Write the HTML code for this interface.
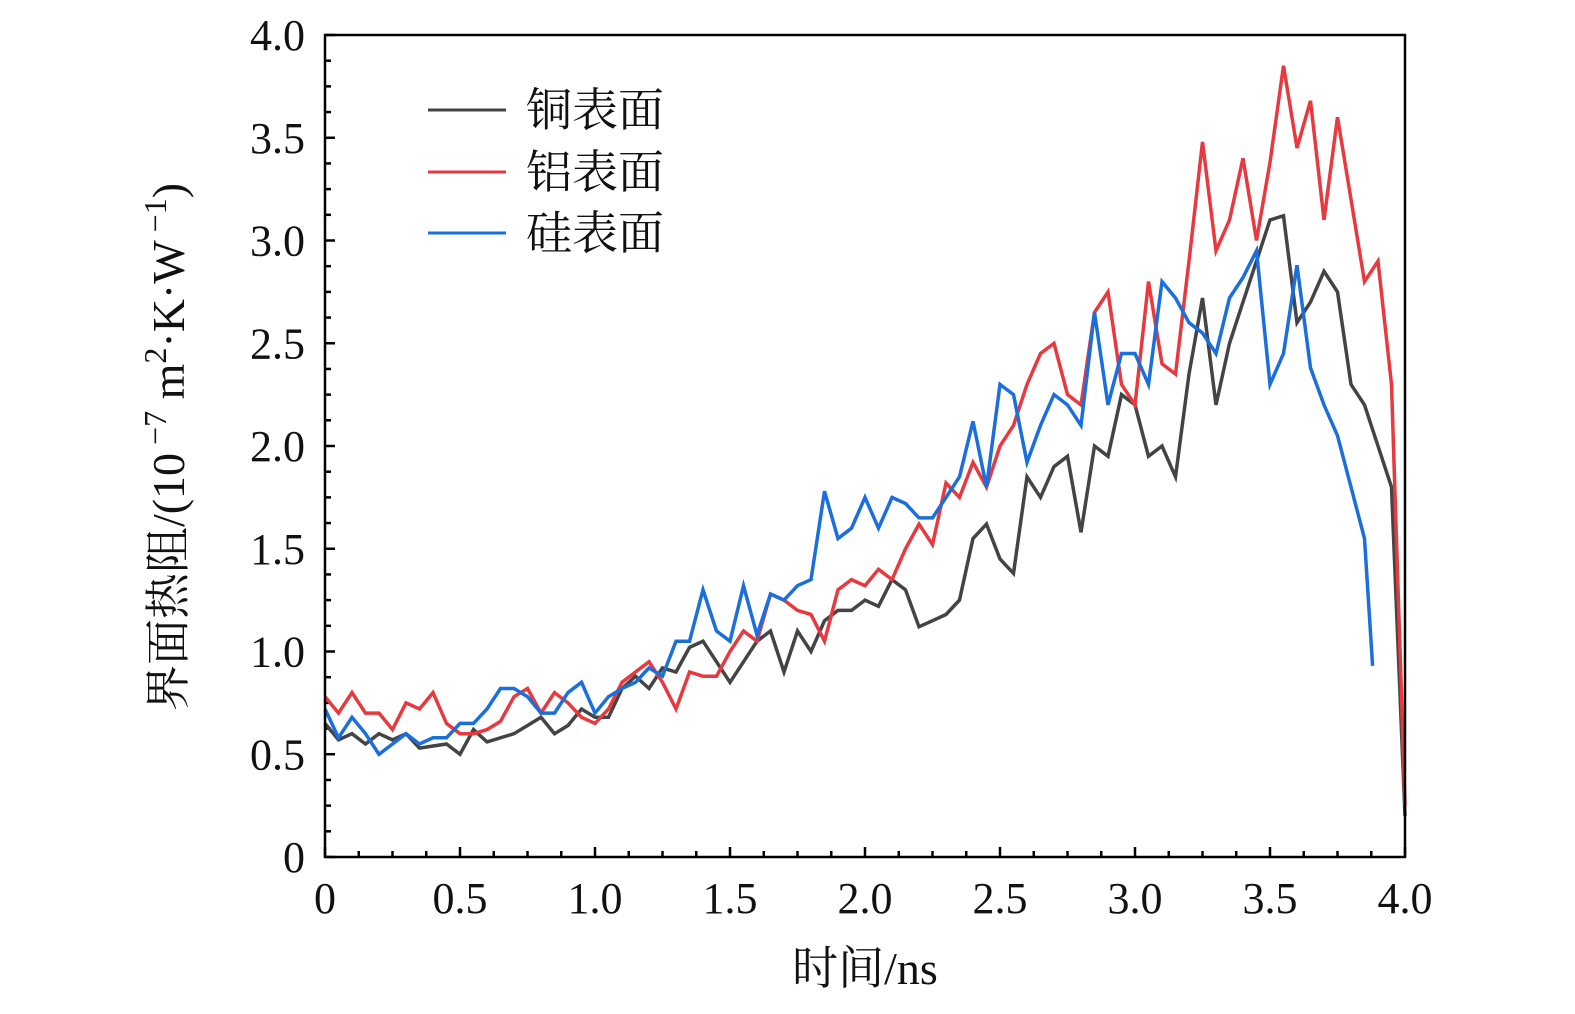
<!DOCTYPE html>
<html><head><meta charset="utf-8"><style>
html,body{margin:0;padding:0;background:#fff;}
svg{display:block;}
text{font-family:"Liberation Serif","Noto Serif CJK SC","Noto Sans CJK SC",serif;fill:#111;}
</style></head><body>
<svg id="chart" width="1575" height="1014" viewBox="0 0 1575 1014"></svg>
<script>
const times = [];
for (let i = 0; i <= 80; i++) times.push(+(i * 0.05).toFixed(2));
const copperValues = [0.65,0.57,0.6,0.55,0.6,0.57,0.6,0.53,0.54,0.55,0.5,0.62,0.56,0.58,0.6,0.64,0.68,0.6,0.64,0.72,0.68,0.68,0.82,0.88,0.82,0.92,0.9,1.02,1.05,0.95,0.85,0.95,1.05,1.1,0.9,1.1,1.0,1.15,1.2,1.2,1.25,1.22,1.35,1.3,1.12,1.15,1.18,1.25,1.55,1.62,1.45,1.38,1.85,1.75,1.9,1.95,1.58,2.0,1.95,2.25,2.2,1.95,2.0,1.85,2.35,2.72,2.2,2.5,2.7,2.9,3.1,3.12,2.6,2.7,2.85,2.75,2.3,2.2,2.0,1.8,0.2];
const aluminumValues = [0.78,0.7,0.8,0.7,0.7,0.62,0.75,0.72,0.8,0.65,0.6,0.6,0.62,0.66,0.78,0.82,0.7,0.8,0.75,0.68,0.65,0.72,0.85,0.9,0.95,0.85,0.72,0.9,0.88,0.88,1.0,1.1,1.05,1.28,1.25,1.2,1.18,1.05,1.3,1.35,1.32,1.4,1.35,1.5,1.62,1.52,1.82,1.75,1.92,1.8,2.0,2.1,2.3,2.45,2.5,2.25,2.2,2.65,2.75,2.3,2.2,2.8,2.4,2.35,2.9,3.48,2.95,3.1,3.4,3.0,3.38,3.85,3.45,3.68,3.1,3.6,3.2,2.8,2.9,2.3,0.25];
const siliconTimes = times.slice(0, 78).concat([3.88]);
const siliconValues = [0.72,0.58,0.68,0.6,0.5,0.55,0.6,0.55,0.58,0.58,0.65,0.65,0.72,0.82,0.82,0.78,0.7,0.7,0.8,0.85,0.7,0.78,0.82,0.85,0.92,0.88,1.05,1.05,1.3,1.1,1.05,1.32,1.08,1.28,1.25,1.32,1.35,1.78,1.55,1.6,1.75,1.6,1.75,1.72,1.65,1.65,1.75,1.85,2.12,1.8,2.3,2.25,1.92,2.1,2.25,2.2,2.1,2.65,2.2,2.45,2.45,2.3,2.8,2.72,2.6,2.55,2.45,2.72,2.82,2.95,2.3,2.45,2.88,2.38,2.2,2.05,1.8,1.55,0.93];
const xTickLabels = ["0","0.5","1.0","1.5","2.0","2.5","3.0","3.5","4.0"];
const yTickLabels = ["0","0.5","1.0","1.5","2.0","2.5","3.0","3.5","4.0"];

const NS = "http://www.w3.org/2000/svg";
const svg = document.getElementById("chart");
const X0 = 325, X1 = 1405, Y0 = 857, Y1 = 35;
const xs = v => X0 + (v / 4) * (X1 - X0);
const ys = v => Y0 - (v / 4) * (Y0 - Y1);
function mk(tag, attrs, parent) {
  const e = document.createElementNS(NS, tag);
  for (const k in attrs) e.setAttribute(k, attrs[k]);
  (parent || svg).appendChild(e);
  return e;
}
for (let i = 0; i <= 32; i++) {
  const v = i * 0.125, major = i % 4 === 0, len = major ? 10 : 6;
  const tx = mk("line", {x1: xs(v), x2: xs(v), y1: Y0, y2: Y0 - len, stroke: "#000", "stroke-width": 2.5});
  
  
  const ty = mk("line", {x1: X0, x2: X0 + len, y1: ys(v), y2: ys(v), stroke: "#000", "stroke-width": 2.5});
  
  
}
xTickLabels.forEach((lab, i) => {
  const t = mk("text", {x: xs(i * 0.5), y: 913, "text-anchor": "middle", "font-size": 44});
  t.textContent = lab;
  
  
});
yTickLabels.forEach((lab, i) => {
  const t = mk("text", {x: 305, y: ys(i * 0.5) + 15, "text-anchor": "end", "font-size": 44});
  t.textContent = lab;
  
  
});
function series(tArr, vArr, color, name) {
  const pts = vArr.map((v, i) => xs(tArr[i]).toFixed(1) + "," + ys(v).toFixed(1)).join(" ");
  const p = mk("polyline", {points: pts, fill: "none", stroke: color, "stroke-width": 3.5, "stroke-linejoin": "miter"});
  
  
}
series(times, copperValues, "#444444", "copper-series");
series(times, aluminumValues, "#e8393f", "aluminum-series");
series(siliconTimes, siliconValues, "#1a6fdc", "silicon-series");
const frame = mk("rect", {x: X0, y: Y1, width: X1 - X0, height: Y0 - Y1, fill: "none", stroke: "#000", "stroke-width": 2.5});


const legend = [["铜表面", "#444444", 110], ["铝表面", "#e8393f", 172], ["硅表面", "#1a6fdc", 233]];
legend.forEach(([lab, c, y]) => {
  const l = mk("line", {x1: 428, x2: 506, y1: y, y2: y, stroke: c, "stroke-width": 3});
  
  
  const t = mk("text", {x: 526, y: y + 16, "font-size": 46});
  t.textContent = lab;
  
  
});
const xt = mk("text", {x: 865, y: 984, "text-anchor": "middle", "font-size": 46});
xt.textContent = "时间/ns";


const yt = mk("text", {x: 0, y: 0, "text-anchor": "middle", "font-size": 46, transform: "translate(184,447) rotate(-90)"});
yt.innerHTML = '界面热阻/(10<tspan dy="-18" font-size="32"> −7</tspan><tspan dy="18">  m</tspan><tspan dy="-18" font-size="32">2</tspan><tspan dy="18">·K·W</tspan><tspan dy="-18" font-size="32"> −1</tspan><tspan dy="18">)</tspan>';


</script>
</body></html>
